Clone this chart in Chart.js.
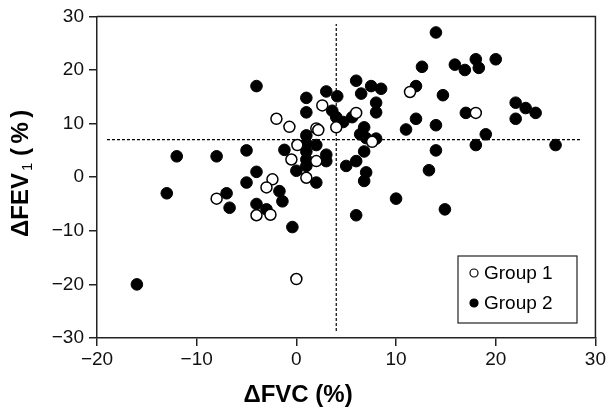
<!DOCTYPE html>
<html>
<head>
<meta charset="utf-8">
<script src="https://cdn.jsdelivr.net/npm/chart.js@4.4.0/dist/chart.umd.min.js"></script>
<style>
  html, body { margin: 0; padding: 0; background: #fff; }
</style>
</head>
<body>
<canvas id="chart" width="608" height="413"></canvas>
<script>
'use strict';

// data
const group1X = [-2.0, -0.7, 2.0, 2.2, 2.6, 4.0, 6.0, 11.4, 18.0, 0.1, -0.5, 2.0, 7.6, 1.0, -2.4, -3.0, -8.0, -4.0, -2.6, 0.0];
const group1Y = [10.9, 9.4, 9.1, 8.8, 13.4, 9.3, 12.0, 15.9, 12.0, 6.0, 3.3, 3.0, 6.6, -0.1, -0.4, -1.9, -4.0, -7.1, -7.0, -19.0];

const group2X = [-4.0, 1.0, 3.0, 4.1, 1.0, 3.6, 4.0, 4.7, 5.6, 1.0, 1.0, 2.0, -1.2, 1.0, 1.0, 3.0, 3.0, 1.0, 0.0,
  5.0, 6.0, 6.8, 7.0, 6.8, 2.0, -5.0, -8.0, -12.0, -4.0, -5.0, -1.7, -1.4, -4.0, -3.0, -0.4, -7.0, -13.0, -6.7, -16.0,
  6.0, 6.5, 7.5, 8.5, 8.0, 8.0, 6.8, 6.4, 7.0, 8.0, 12.0, 12.6, 14.0, 15.9, 16.9, 18.0, 18.3, 20.0, 14.7,
  22.0, 23.0, 24.0, 22.0, 17.0, 12.0, 11.0, 14.0, 19.0, 18.0, 26.0, 14.0, 13.3, 10.0, 14.9, 6.0];
const group2Y = [17.0, 14.8, 16.0, 15.1, 12.1, 12.4, 11.2, 10.3, 11.2, 7.8, 6.3, 6.0, 5.1, 4.8, 3.3, 4.2, 3.0, 2.1, 1.2,
  2.1, 3.0, 4.8, 0.9, -0.7, -1.0, 5.0, 3.9, 3.9, 1.0, -1.0, -2.6, -4.5, -5.0, -6.0, -9.3, -3.0, -3.0, -5.7, -20.0,
  18.0, 15.6, 17.0, 16.5, 13.9, 12.1, 9.3, 8.0, 7.3, 7.2, 17.0, 20.6, 27.0, 21.0, 20.0, 22.0, 20.4, 22.0, 15.3,
  13.9, 12.9, 12.0, 10.9, 12.0, 10.9, 8.9, 9.7, 8.0, 6.0, 6.0, 5.0, 1.3, -4.0, -6.0, -7.1];

const groupLabels = ['Group 1', 'Group 2'];

// dashed reference lines (x = 4, y = 7)
const vLineX = [4, 4];
const vLineY = [-28.7, 28.6];
const hLineX = [-19, 28.6];
const hLineY = [7, 7];

const xTicks = [-20, -10, 0, 10, 20, 30];
const yTicks = [-30, -20, -10, 0, 10, 20, 30];

const FONT = 'Arial, "Liberation Sans", sans-serif';

const toPoints = (xs, ys) => xs.map((x, i) => ({ x: x, y: ys[i] }));
const minus = (v) => String(v).replace('-', '\u2212');

// box, axis titles and legend drawn on top
const extras = {
  id: 'extras',
  afterDraw(chart) {
    const ctx = chart.ctx;
    const a = chart.chartArea;
    ctx.save();
    ctx.strokeStyle = '#222';
    ctx.lineWidth = 1.5;
    ctx.beginPath();
    ctx.moveTo(a.left, a.top);
    ctx.lineTo(a.right, a.top);
    ctx.lineTo(a.right, a.bottom);
    ctx.stroke();

    // x title
    ctx.fillStyle = '#000';
    ctx.font = 'bold 24px ' + FONT;
    ctx.textAlign = 'center';
    ctx.textBaseline = 'alphabetic';
    ctx.fillText('\u0394FVC (%)', 298, 402);

    // y title with subscript, laid out along the rotated axis
    ctx.translate(28, 0);
    ctx.rotate(-Math.PI / 2);
    ctx.textAlign = 'left';
    ctx.font = 'bold 24px ' + FONT;
    ctx.fillText('\u0394FEV', -237, 0);
    ctx.font = '15px ' + FONT;
    ctx.fillText('1', -171, 4);
    ctx.font = 'bold 24px ' + FONT;
    let px = -156;
    ['(', '%', ')'].forEach((ch) => {
      ctx.fillText(ch, px, 0);
      px += ctx.measureText(ch).width + 4.5;
    });
    ctx.setTransform(1, 0, 0, 1, 0, 0);

    // legend
    ctx.strokeStyle = '#222';
    ctx.lineWidth = 1.2;
    ctx.strokeRect(458, 256, 119, 67);
    ctx.font = '19px ' + FONT;
    ctx.textBaseline = 'middle';
    groupLabels.forEach((label, i) => {
      const y = 273 + i * 30;
      ctx.beginPath();
      ctx.arc(474, y, 4, 0, Math.PI * 2);
      ctx.fillStyle = i === 0 ? '#fff' : '#000';
      ctx.fill();
      ctx.lineWidth = 1.2;
      ctx.strokeStyle = '#000';
      ctx.stroke();
      ctx.fillStyle = '#000';
      ctx.fillText(label, 484, y + 1);
    });
    ctx.restore();
  }
};

const ctx = document.getElementById('chart').getContext('2d');
new Chart(ctx, {
  type: 'scatter',
  data: {
    datasets: [
      {
        label: groupLabels[0],
        data: toPoints(group1X, group1Y),
        backgroundColor: '#fff',
        borderColor: '#000',
        borderWidth: 1.5,
        pointRadius: 5.5,
        order: 0,
      },
      {
        label: groupLabels[1],
        data: toPoints(group2X, group2Y),
        backgroundColor: '#000',
        borderColor: '#000',
        borderWidth: 1,
        pointRadius: 5.8,
        order: 1,
      },
      {
        data: toPoints(vLineX, vLineY),
        showLine: true,
        pointRadius: 0,
        borderColor: '#000',
        borderWidth: 1.2,
        borderDash: [3, 2],
        order: 5,
      },
      {
        data: toPoints(hLineX, hLineY),
        showLine: true,
        pointRadius: 0,
        borderColor: '#000',
        borderWidth: 1.2,
        borderDash: [3, 2],
        order: 5,
      },
    ],
  },
  options: {
    responsive: false,
    animation: false,
    layout: { padding: { left: 0, right: 12, top: 9, bottom: 0 } },
    plugins: {
      legend: { display: false },
      tooltip: { enabled: false },
    },
    scales: {
      x: {
        type: 'linear',
        min: xTicks[0],
        max: xTicks[xTicks.length - 1],
        afterFit: (scale) => { scale.height = 75; },
        afterBuildTicks: (scale) => { scale.ticks = xTicks.map(v => ({ value: v })); },
        grid: { display: true, drawOnChartArea: false, drawTicks: true, tickLength: 8, color: '#222', lineWidth: 1.5 },
        border: { display: true, color: '#222', width: 1.5 },
        ticks: { color: '#111', padding: 2, font: { size: 19, family: FONT }, callback: (v) => minus(v), maxRotation: 0 },
      },
      y: {
        type: 'linear',
        min: yTicks[0],
        max: yTicks[yTicks.length - 1],
        afterFit: (scale) => { scale.width = 97; },
        afterBuildTicks: (scale) => { scale.ticks = yTicks.map(v => ({ value: v })); },
        grid: { display: true, drawOnChartArea: false, drawTicks: true, tickLength: 8, color: '#222', lineWidth: 1.5 },
        border: { display: true, color: '#222', width: 1.5 },
        ticks: { color: '#111', padding: 5, font: { size: 19, family: FONT }, callback: (v) => minus(v) },
      },
    },
  },
  plugins: [extras],
});
</script>
</body>
</html>
